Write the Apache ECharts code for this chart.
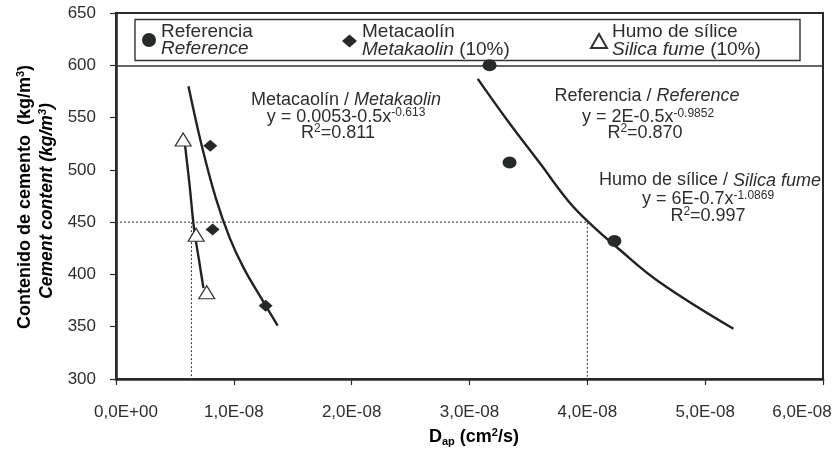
<!DOCTYPE html>
<html>
<head>
<meta charset="utf-8">
<script src="https://cdn.jsdelivr.net/npm/echarts@6/dist/echarts.min.js"></script>
<style>
html,body{margin:0;padding:0;background:#fff;}
#chart{width:835px;height:457px;}
</style>
</head>
<body>
<div id="chart"></div>
<script>
// ---- data (x in units of 1E-08 cm2/s, y in kg/m3) ----
const xTickLabels = ['0,0E+00','1,0E-08','2,0E-08','3,0E-08','4,0E-08','5,0E-08','6,0E-08'];
const yTickLabels = ['300','350','400','450','500','550','600','650'];

const refX = [3.17, 3.34, 4.23];
const refY = [600, 507, 432];
const metaX = [0.80, 0.82, 1.27];
const metaY = [523, 443, 370];
const sfX = [0.57, 0.68, 0.77];
const sfY = [529, 438, 383];

const refFitX = [3.07, 3.33, 3.60, 3.84, 4.01, 4.26, 4.62, 5.24];
const refFitY = [587, 546, 506, 470, 450, 425, 392, 348];
const metaFitX = [0.615, 0.728, 0.847, 0.965, 1.084, 1.234, 1.372];
const metaFitY = [580, 523, 473, 435, 406, 377, 351];
const sfFitX = [0.578, 0.622, 0.663, 0.704, 0.742];
const sfFitY = [531, 488, 443, 414, 387];

const guideH = [[0, 450], [4.0, 450], [4.0, 300]];
const guideV = [[0.64, 450], [0.64, 300]];
const legendLineY = 600;

const legendNames = ['Referencia', 'Metacaolín', 'Humo de sílice'];
const legendSub = ['Reference', 'Metakaolin', 'Silica fume'];

// ---- helpers ----
const zip = (a, b) => a.map((v, i) => [v, b[i]]);
const FONT = '"Liberation Sans", Arial, Helvetica, sans-serif';
const TXT = '#2e2e2e';
const INK = '#262a27';

const chart = echarts.init(document.getElementById('chart'), null, {renderer: 'canvas'});

const richLeg = {
  n: {fontFamily: FONT, fontSize: 19, lineHeight: 17, color: TXT},
  i: {fontFamily: FONT, fontSize: 19, lineHeight: 17, color: TXT, fontStyle: 'italic'}
};
function legendFmt(name) {
  const k = legendNames.indexOf(name);
  if (k === 0) return '{n|' + name + '}\n{i|' + legendSub[k] + '}';
  return '{n|' + name + '}\n{i|' + legendSub[k] + '} {n|(10%)}';
}
function mkLegend(k, left, w, h) {
  return {
    data: [legendNames[k]], left: left, top: 22, orient: 'horizontal',
    itemWidth: w, itemHeight: h, padding: 0, selectedMode: false,
    formatter: legendFmt,
    textStyle: {fontFamily: FONT, fontSize: 19, color: TXT, rich: richLeg}
  };
}

const richAnn = {
  t: {fontFamily: FONT, fontSize: 18, lineHeight: 20, color: TXT},
  ti: {fontFamily: FONT, fontSize: 18, lineHeight: 20, color: TXT, fontStyle: 'italic'},
  s: {fontFamily: FONT, fontSize: 12, lineHeight: 13, color: TXT, verticalAlign: 'top'}
};
function ann(x, y, text) {
  return {type: 'text', x: x, y: y, silent: true,
    style: {text: text, rich: richAnn, align: 'center', verticalAlign: 'middle', fill: TXT}};
}

const richTitle = {
  b: {fontFamily: FONT, fontSize: 18, fontWeight: 'bold', lineHeight: 20, color: TXT},
  bi: {fontFamily: FONT, fontSize: 17.5, fontWeight: 'bold', fontStyle: 'italic', lineHeight: 20, color: TXT},
  bs: {fontFamily: FONT, fontSize: 11, fontWeight: 'bold', lineHeight: 13, color: TXT, verticalAlign: 'top'},
  bis: {fontFamily: FONT, fontSize: 11, fontWeight: 'bold', fontStyle: 'italic', lineHeight: 13, color: TXT, verticalAlign: 'top'},
  sub: {fontFamily: FONT, fontSize: 11, fontWeight: 'bold', lineHeight: 13, color: TXT, verticalAlign: 'bottom'}
};
const richX = {
  t: {fontFamily: FONT, fontSize: 17, color: TXT},
  first: {fontFamily: FONT, fontSize: 17, color: TXT, padding: [0, 0, 0, 20]},
  last: {fontFamily: FONT, fontSize: 17, color: TXT, padding: [0, 42, 0, 0]}
};

const fitLine = {width: 2.4, color: '#222'};
const dotLine = {width: 1, color: '#333', type: [2, 2]};

const option = {
  animation: false,
  backgroundColor: '#fff',
  grid: {left: 116, right: 12, top: 13, bottom: 78, outerBoundsMode: 'none', containLabel: false,
    show: true, borderColor: '#2a2a2a', borderWidth: 2},
  xAxis: {
    type: 'value', min: 0, max: 6, interval: 1,
    axisLine: {show: true, onZero: false, lineStyle: {color: '#2a2a2a', width: 2.6}},
    axisTick: {show: true, inside: false, length: 6, lineStyle: {color: '#2a2a2a', width: 1.2}},
    splitLine: {show: false},
    axisLabel: {margin: 25, fontFamily: FONT, fontSize: 17, color: TXT, hideOverlap: false, rich: richX,
      formatter: v => {
        const k = Math.round(v);
        const tag = k === 0 ? 'first' : (k === xTickLabels.length - 1 ? 'last' : 't');
        return '{' + tag + '|' + xTickLabels[k] + '}';
      }}
  },
  yAxis: {
    type: 'value', min: 300, max: 650, interval: 50,
    axisLine: {show: true, onZero: false, lineStyle: {color: '#2a2a2a', width: 2.6}},
    axisTick: {show: true, inside: false, length: 6, lineStyle: {color: '#2a2a2a', width: 1.2}},
    splitLine: {show: false},
    axisLabel: {margin: 20, fontFamily: FONT, fontSize: 17, color: TXT,
      formatter: v => yTickLabels[Math.round((v - 300) / 50)]}
  },
  legend: [
    mkLegend(0, 142, 14, 14),
    mkLegend(1, 342, 15, 13),
    mkLegend(2, 590, 16, 14)
  ],
  graphic: [
    {type: 'rect', silent: true, shape: {x: 135, y: 19.5, width: 665, height: 41},
      style: {fill: 'none', stroke: '#333', lineWidth: 1.4}, z: 1},
    ann(346, 100, '{t|Metacaolín / }{ti|Metakaolin}'),
    ann(346, 117, '{t|y = 0.0053-0.5x}{s|-0.613}'),
    ann(338, 133, '{t|R}{s|2}{t|=0.811}'),
    ann(647, 96, '{t|Referencia / }{ti|Reference}'),
    ann(648, 117.5, '{t|y = 2E-0.5x}{s|-0.9852}'),
    ann(645, 133, '{t|R}{s|2}{t|=0.870}'),
    ann(710, 180.5, '{t|Humo de sílice / }{ti|Silica fume}'),
    ann(708, 199.5, '{t|y = 6E-0.7x}{s|-1.0869}'),
    ann(708, 216, '{t|R}{s|2}{t|=0.997}'),
    {type: 'text', x: 25, y: 197, rotation: Math.PI / 2, silent: true,
      style: {text: '{b|Contenido de cemento  (kg/m}{bs|3}{b|)}', rich: richTitle, align: 'center', verticalAlign: 'middle'}},
    {type: 'text', x: 47, y: 201, rotation: Math.PI / 2, silent: true,
      style: {text: '{bi|Cement content (kg/m}{bis|3}{bi|)}', rich: richTitle, align: 'center', verticalAlign: 'middle'}},
    {type: 'text', x: 429, y: 437, silent: true,
      style: {text: '{b|D}{sub|ap}{b| (cm}{bs|2}{b|/s)}', rich: richTitle, align: 'left', verticalAlign: 'middle'}}
  ],
  series: [
    {name: 'refFit', type: 'line', data: zip(refFitX, refFitY), smooth: 0.4, showSymbol: false, silent: true,
      lineStyle: fitLine, z: 3,
      markLine: {silent: true, symbol: 'none', label: {show: false},
        lineStyle: {color: '#333', width: 1.5, type: 'solid'}, data: [{yAxis: legendLineY}]}},
    {name: 'metaFit', type: 'line', data: zip(metaFitX, metaFitY), smooth: 0.4, showSymbol: false, silent: true,
      lineStyle: fitLine, z: 3},
    {name: 'sfFit', type: 'line', data: zip(sfFitX, sfFitY), smooth: 0.3, showSymbol: false, silent: true,
      lineStyle: fitLine, z: 3},
    {name: 'guideH', type: 'line', data: guideH, showSymbol: false, silent: true, lineStyle: dotLine, z: 2},
    {name: 'guideV', type: 'line', data: guideV, showSymbol: false, silent: true, lineStyle: dotLine, z: 2},
    {name: legendNames[0], type: 'scatter', data: zip(refX, refY), symbol: 'circle', symbolSize: [14, 12],
      itemStyle: {color: INK, opacity: 1}, z: 5},
    {name: legendNames[1], type: 'scatter', data: zip(metaX, metaY), symbol: 'diamond', symbolSize: [14, 12],
      itemStyle: {color: INK, opacity: 1}, z: 5},
    {name: legendNames[2], type: 'scatter', data: zip(sfX, sfY), symbol: 'triangle', symbolSize: [16, 13],
      itemStyle: {color: '#fff', borderColor: '#333', borderWidth: 1.2, opacity: 1}, z: 5}
  ]
};
chart.setOption(option);
</script>
</body>
</html>
